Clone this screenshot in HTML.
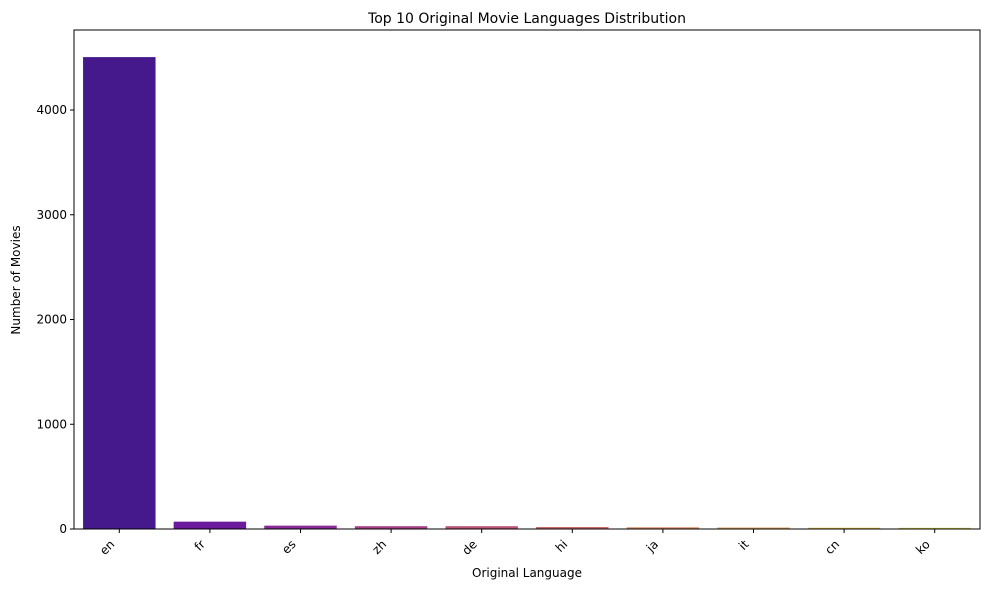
<!DOCTYPE html>
<html><head><meta charset="utf-8"><style>
body{margin:0;background:#fff;font-family:"Liberation Sans","DejaVu Sans",sans-serif;}
</style></head><body>
<svg id="chart" width="989" height="590" xmlns="http://www.w3.org/2000/svg" font-family="'DejaVu Sans','Liberation Sans',sans-serif">
<text x="527" y="23" text-anchor="middle" font-size="14" fill="#000">Top 10 Original Movie Languages Distribution</text>
<g id="bars"></g>
<rect x="74" y="30" width="906" height="499" fill="none" stroke="#000" stroke-width="1"/>
<g id="xticks"></g><g id="yticks"></g>
<text x="527" y="577" text-anchor="middle" font-size="12">Original Language</text>
<text transform="translate(20,280) rotate(-90)" text-anchor="middle" font-size="12">Number of Movies</text>
</svg>
<script>
const categories=["en","fr","es","zh","de","hi","ja","it","cn","ko"];
const counts=[4505,70,32,27,27,19,16,14,12,11];
const yTicks=[0,1000,2000,3000,4000];
const colors=["#45188c","#6a1a9a","#8a2a98","#a73f87","#bb5577","#cc6a66","#d98258","#df9b4c","#dcb444","#d4cc42"];
const L=74,R=980,T=30,B=529,NS="http://www.w3.org/2000/svg";
const y=v=>B-v*(419/4000);
const band=(R-L)/categories.length;
const x=i=>L+band*i+band/2;
const gb=document.getElementById('bars'),gx=document.getElementById('xticks'),gy=document.getElementById('yticks');
function mk(t,a,p){const e=document.createElementNS(NS,t);for(const k in a)e.setAttribute(k,a[k]);p.appendChild(e);return e;}
categories.forEach((c,i)=>{
 const w=band*0.8;
 const r=mk('rect',{x:x(i)-w/2,y:y(counts[i]),width:w,height:B-y(counts[i]),fill:colors[i]},gb);
 
 
 const tk=mk('line',{x1:x(i),x2:x(i),y1:B,y2:B+4,stroke:'#000'},gx);
 
 
 const ax=x(i)-4,ay=B+16;
 const t=mk('text',{x:ax,y:ay,'text-anchor':'end','font-size':12,transform:`rotate(-45 ${ax} ${ay})`},gx);
 t.textContent=c;
 
 
});
yTicks.forEach(v=>{
 const tk=mk('line',{x1:L-4,x2:L,y1:y(v),y2:y(v),stroke:'#000'},gy);
 
 
 const t=mk('text',{x:L-7,y:y(v)+4,'text-anchor':'end','font-size':12},gy);
 t.textContent=v;
 
 
});
</script>
</body></html>
